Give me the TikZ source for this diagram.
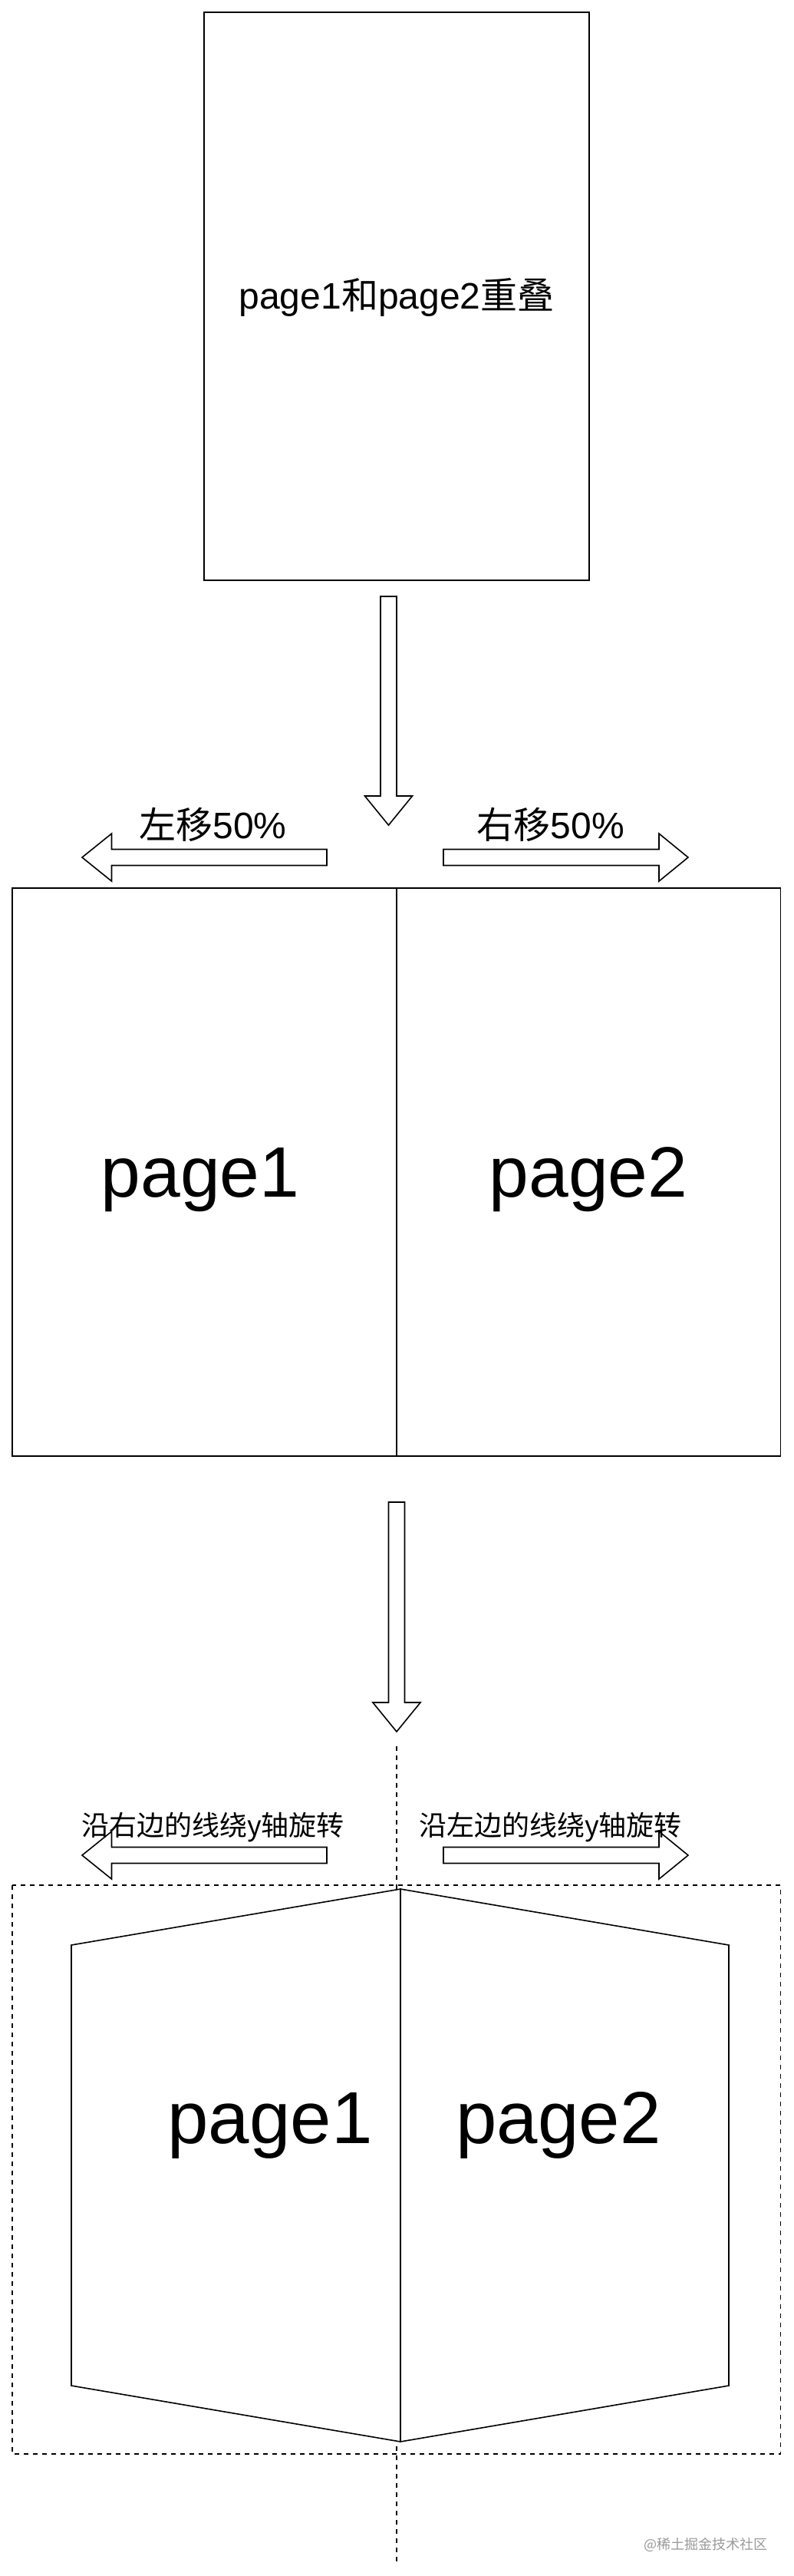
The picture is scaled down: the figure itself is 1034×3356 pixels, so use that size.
\documentclass[tikz,border=0pt]{standalone}
\usepackage{fontspec}
\setmainfont{Liberation Sans}
\newfontfamily\cjk{Noto Sans CJK SC}

\begin{document}
\begin{tikzpicture}[x=1pt,y=-1pt,line width=1.6pt,
    blockarrow/.style={draw,fill=white,line join=miter},
    guide/.style={draw,dash pattern=on 6pt off 6pt},
    hint/.style={inner sep=0pt,anchor=base,font=\fontsize{48pt}{56pt}\selectfont},
    smallhint/.style={inner sep=0pt,anchor=base,font=\cjk\fontsize{36pt}{42pt}\selectfont},
    pagetext/.style={inner sep=0pt,anchor=base,font=\fontsize{93pt}{108pt}\selectfont}]
      \useasboundingbox (0,0) rectangle (1034,3356);

      % stage 1
      \draw (266,16) rectangle (768,756);
      \node[hint] (overlap) at (517,402) {page1{\cjk 和}page2{\cjk 重叠}};

      \draw[blockarrow] (496,777) -- (517,777) -- (517,1037) -- (537.5,1037)
            -- (506.5,1075) -- (475.5,1037) -- (496,1037) -- cycle;

      % stage 2
      \draw[blockarrow] (426,1106.5) -- (145.5,1106.5) -- (145.5,1086) -- (107,1117)
            -- (145.5,1148) -- (145.5,1127.5) -- (426,1127.5) -- cycle;
      \draw[blockarrow] (578,1106.5) -- (859,1106.5) -- (859,1086) -- (897,1117)
            -- (859,1148) -- (859,1127.5) -- (578,1127.5) -- cycle;
      \node[hint] (moveleft) at (277.5,1092) {{\cjk 左移}50\%};
      \node[hint] (moveright) at (718,1092) {{\cjk 右移}50\%};

      \draw (16,1157) rectangle (517,1897);
      \draw (517,1157) rectangle (1017.5,1897);
      \node[pagetext] (flatone) at (261,1559) {page1};
      \node[pagetext] (flattwo) at (767,1559) {page2};

      \draw[blockarrow] (506.5,1957) -- (527.5,1957) -- (527.5,2218) -- (548,2218)
            -- (517,2256) -- (486,2218) -- (506.5,2218) -- cycle;

      % stage 3
      \draw[guide] (517,2275) -- (517,3337);
      \draw[guide] (16,2456) rectangle (1017.5,3197);

      \draw[blockarrow] (426,2406.5) -- (145.5,2406.5) -- (145.5,2386) -- (107,2417)
            -- (145.5,2448) -- (145.5,2427.5) -- (426,2427.5) -- cycle;
      \draw[blockarrow] (578,2406.5) -- (859,2406.5) -- (859,2386) -- (897,2417)
            -- (859,2448) -- (859,2427.5) -- (578,2427.5) -- cycle;
      \node[smallhint] (turnleft) at (277.5,2391) {沿右边的线绕y轴旋转};
      \node[smallhint] (turnright) at (717.5,2391) {沿左边的线绕y轴旋转};

      \draw[fill=white] (93,2534) -- (522,2461) -- (522,3181) -- (93,3108) -- cycle;
      \draw[fill=white] (522,2461) -- (950,2534) -- (950,3108) -- (522,3181) -- cycle;
      \node[pagetext,font=\fontsize{96pt}{110pt}\selectfont] (turnone) at (352,2792) {page1};
      \node[pagetext,font=\fontsize{96pt}{110pt}\selectfont] (turntwo) at (728,2792) {page2};

      \node[inner sep=0pt,anchor=base east,text=black!40,font=\cjk\fontsize{18pt}{20pt}\selectfont]
            (mark) at (1001,3321) {@稀土掘金技术社区};
\end{tikzpicture}
\end{document}
